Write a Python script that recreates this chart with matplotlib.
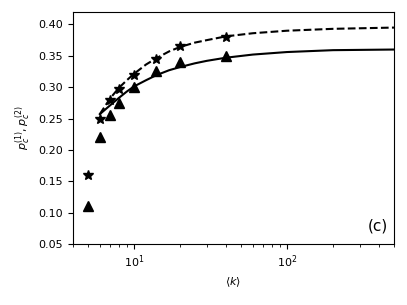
import matplotlib
matplotlib.use("Agg")
import matplotlib.pyplot as plt

# simulation points
k_pts = [5, 6, 7, 8, 10, 14, 20, 40]
p1_pts = [0.11, 0.22, 0.255, 0.275, 0.30, 0.325, 0.34, 0.35]   # triangles
p2_pts = [0.16, 0.25, 0.28, 0.297, 0.32, 0.345, 0.365, 0.38]   # stars

# theory curves
k_th = [6, 7, 8, 9, 10, 12, 14, 17, 20, 25, 30, 40, 60, 100, 200, 500]
p1_th = [0.257, 0.271, 0.283, 0.293, 0.301, 0.311, 0.319, 0.327, 0.332,
         0.338, 0.342, 0.347, 0.352, 0.356, 0.359, 0.360]
p2_th = [0.257, 0.282, 0.299, 0.311, 0.321, 0.336, 0.346, 0.357, 0.364,
         0.371, 0.375, 0.381, 0.386, 0.390, 0.393, 0.395]

fig = plt.figure(figsize=(4.07, 3.05), dpi=100)
ax = fig.add_axes([0.179, 0.2, 0.789, 0.761])

ax.plot(k_th, p1_th, "-", color="black", lw=1.5)
ax.plot(k_th, p2_th, "--", color="black", lw=1.5)
ax.plot(k_pts, p1_pts, "^", color="black", ms=7, ls="none")
ax.plot(k_pts, p2_pts, "*", color="black", ms=7, ls="none")

ax.set_xscale("log")
ax.set_xlim(4, 500)
ax.set_ylim(0.05, 0.42)
ax.set_yticks([0.05, 0.10, 0.15, 0.20, 0.25, 0.30, 0.35, 0.40])
ax.tick_params(labelsize=8)
ax.set_xlabel(r"$\langle k\rangle$", fontsize=8)
ax.set_ylabel(r"$p_c^{(1)}, p_c^{(2)}$", fontsize=8)
ax.text(0.98, 0.045, "(c)", transform=ax.transAxes, ha="right", va="bottom", fontsize=11)

fig.savefig("out.png", dpi=100)
